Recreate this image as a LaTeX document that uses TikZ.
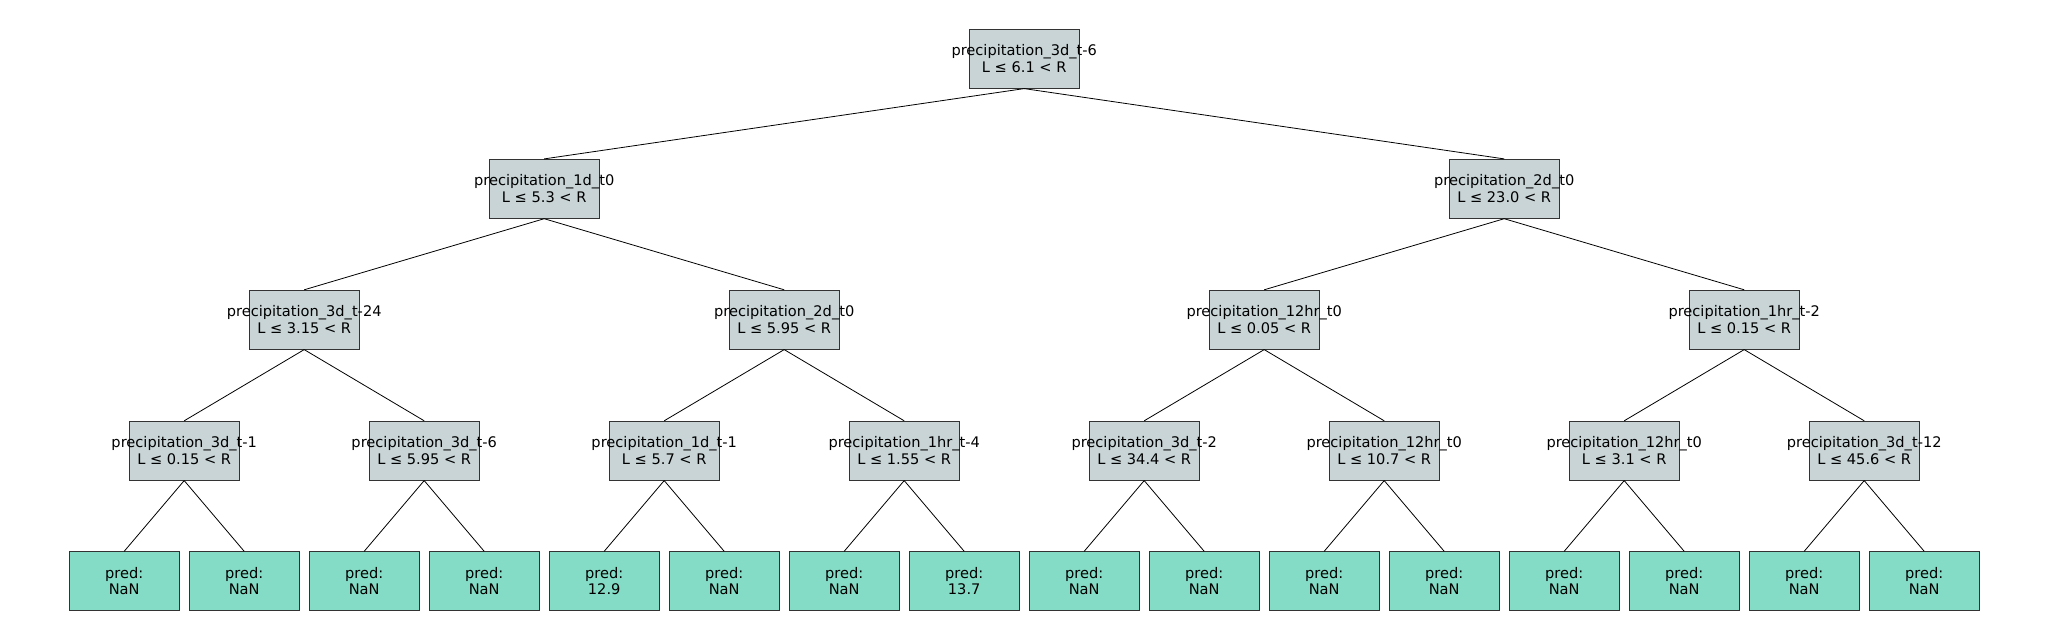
\documentclass[tikz,border=0pt]{standalone}
\usepackage{fontspec}
\setmainfont{DejaVu Sans}
\begin{document}
\begin{tikzpicture}[x=1pt,y=1pt,
  box/.style={draw=black!80,line width=0.8pt,minimum width=110pt,minimum height=59pt,inner sep=0pt},
  split/.style={box,fill=splitc},
  leaf/.style={box,fill=leafc},
  lbl/.style={inner sep=0pt,align=center,font=\fontsize{14.6}{16.5}\selectfont,text=black},
  edge/.style={line width=0.8pt,black}]
\definecolor{splitc}{RGB}{200,212,214}
\definecolor{leafc}{RGB}{132,220,198}
\useasboundingbox (0,0) rectangle (2048,-640);
% root
\node[split,label={[lbl]center:{precipitation\_3d\_t-6\\L ≤ 6.1 < R}}] (r) at (1024.2,-58.7) {};
% level 1
\node[split,label={[lbl]center:{precipitation\_1d\_t0\\L ≤ 5.3 < R}}] (a) at (544.2,-188.8) {};
\node[split,label={[lbl]center:{precipitation\_2d\_t0\\L ≤ 23.0 < R}}] (b) at (1504.2,-188.8) {};
% level 2
\node[split,label={[lbl]center:{precipitation\_3d\_t-24\\L ≤ 3.15 < R}}] (aa) at (304.2,-319.7) {};
\node[split,label={[lbl]center:{precipitation\_2d\_t0\\L ≤ 5.95 < R}}] (ab) at (784.2,-319.7) {};
\node[split,label={[lbl]center:{precipitation\_12hr\_t0\\L ≤ 0.05 < R}}] (ba) at (1264.2,-319.7) {};
\node[split,label={[lbl]center:{precipitation\_1hr\_t-2\\L ≤ 0.15 < R}}] (bb) at (1744.2,-319.7) {};
% level 3
\node[split,label={[lbl]center:{precipitation\_3d\_t-1\\L ≤ 0.15 < R}}] (c1) at (184.2,-450.7) {};
\node[split,label={[lbl]center:{precipitation\_3d\_t-6\\L ≤ 5.95 < R}}] (c2) at (424.2,-450.7) {};
\node[split,label={[lbl]center:{precipitation\_1d\_t-1\\L ≤ 5.7 < R}}] (c3) at (664.2,-450.7) {};
\node[split,label={[lbl]center:{precipitation\_1hr\_t-4\\L ≤ 1.55 < R}}] (c4) at (904.2,-450.7) {};
\node[split,label={[lbl]center:{precipitation\_3d\_t-2\\L ≤ 34.4 < R}}] (c5) at (1144.2,-450.7) {};
\node[split,label={[lbl]center:{precipitation\_12hr\_t0\\L ≤ 10.7 < R}}] (c6) at (1384.2,-450.7) {};
\node[split,label={[lbl]center:{precipitation\_12hr\_t0\\L ≤ 3.1 < R}}] (c7) at (1624.2,-450.7) {};
\node[split,label={[lbl]center:{precipitation\_3d\_t-12\\L ≤ 45.6 < R}}] (c8) at (1864.2,-450.7) {};
% leaves
\foreach \i/\v in {1/NaN,2/NaN,3/NaN,4/NaN,5/12.9,6/NaN,7/NaN,8/13.7,9/NaN,10/NaN,11/NaN,12/NaN,13/NaN,14/NaN,15/NaN,16/NaN}{
  \node[leaf,label={[lbl]center:{pred:\\\v}}] (l\i) at ({124.2+120*(\i-1)},-581.2) {};
}
% edges
\draw[edge] (r.south) -- (a.north);
\draw[edge] (r.south) -- (b.north);
\draw[edge] (a.south) -- (aa.north);
\draw[edge] (a.south) -- (ab.north);
\draw[edge] (b.south) -- (ba.north);
\draw[edge] (b.south) -- (bb.north);
\draw[edge] (aa.south) -- (c1.north);
\draw[edge] (aa.south) -- (c2.north);
\draw[edge] (ab.south) -- (c3.north);
\draw[edge] (ab.south) -- (c4.north);
\draw[edge] (ba.south) -- (c5.north);
\draw[edge] (ba.south) -- (c6.north);
\draw[edge] (bb.south) -- (c7.north);
\draw[edge] (bb.south) -- (c8.north);
\foreach \p/\x/\y in {c1/l1/l2,c2/l3/l4,c3/l5/l6,c4/l7/l8,c5/l9/l10,c6/l11/l12,c7/l13/l14,c8/l15/l16}{
  \draw[edge] (\p.south) -- (\x.north);
  \draw[edge] (\p.south) -- (\y.north);
}
\end{tikzpicture}
\end{document}
